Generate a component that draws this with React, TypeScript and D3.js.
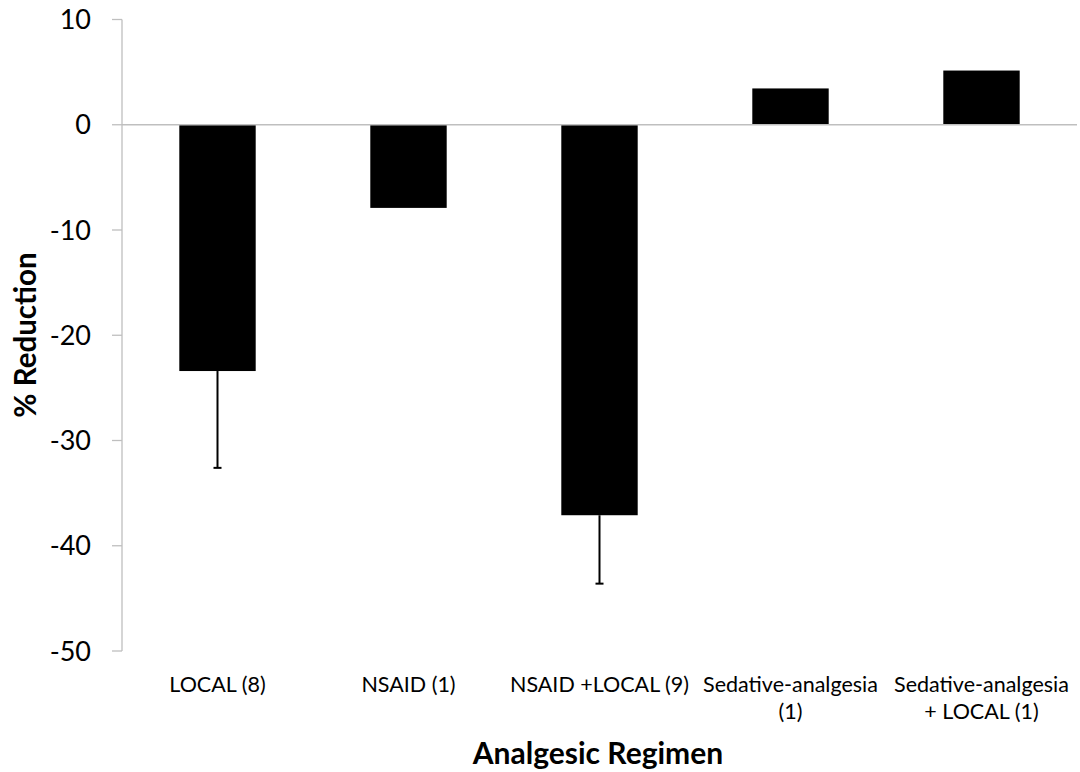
import React from "react";
import * as d3 from "d3";

const categories: string[][] = [
  ["LOCAL (8)"],
  ["NSAID (1)"],
  ["NSAID +LOCAL (9)"],
  ["Sedative-analgesia", "(1)"],
  ["Sedative-analgesia", "+ LOCAL (1)"],
];
const values: number[] = [-23.4, -7.9, -37.1, 3.45, 5.15];
const errors: (number | null)[] = [9.2, null, 6.5, null, null];
const yTicks: number[] = [10, 0, -10, -20, -30, -40, -50];

const W = 1080;
const H = 772;
const FONT = "Lato, 'Open Sans', sans-serif";

export default function App() {
  const x = d3
    .scaleBand<number>()
    .domain(d3.range(categories.length))
    .range([122, 1077])
    .paddingInner(0.6)
    .paddingOuter(0.3);
  const y = d3.scaleLinear().domain([-50, 10]).range([651, 19.5]);
  const band = x.bandwidth();

  return (
    <svg
      width={W}
      height={H}
      style={{ position: "absolute", left: 0, top: 0, background: "#fff" }}
      fontFamily={FONT}
    >
      {/* bars */}
      {values.map((v, i) => (
        <rect
          key={"b" + i}
          x={x(i)!}
          y={y(Math.max(0, v))}
          width={band}
          height={Math.abs(y(v) - y(0))}
          fill="#000"
        />
      ))}
      {/* zero line */}
      <line x1={122} x2={1077} y1={y(0)} y2={y(0)} stroke="#bfbfbf" strokeWidth={1.3} />
      {/* y axis */}
      <line x1={122} x2={122} y1={y(10)} y2={y(-50)} stroke="#bfbfbf" strokeWidth={1.3} />
      {yTicks.map((t) => (
        <g key={"t" + t}>
          <line x1={112} x2={122} y1={y(t)} y2={y(t)} stroke="#bfbfbf" strokeWidth={1.3} />
          <text
            x={91}
            y={y(t)}
            dy="0.36em"
            textAnchor="end"
            fontSize={27}
            fill="#000"
          >
            {t}
          </text>
        </g>
      ))}
      {/* error bars */}
      {values.map((v, i) => {
        const e = errors[i];
        if (e == null) return null;
        const cx = x(i)! + band / 2;
        return (
          <g key={"e" + i}>
            <line x1={cx} x2={cx} y1={y(v)} y2={y(v - e)} stroke="#000" strokeWidth={2} />
            <line x1={cx - 4} x2={cx + 4} y1={y(v - e)} y2={y(v - e)} stroke="#000" strokeWidth={2} />
          </g>
        );
      })}
      {/* category labels */}
      {categories.map((lines, i) => (
        <text
          key={"c" + i}
          x={x(i)! + band / 2}
          y={692}
          textAnchor="middle"
          fontSize={21.5}
          fill="#000"
        >
          {lines.map((l, j) => (
            <tspan key={j} x={x(i)! + band / 2} dy={j === 0 ? 0 : 27}>
              {l}
            </tspan>
          ))}
        </text>
      ))}
      {/* axis titles */}
      <text
        x={598}
        y={764}
        textAnchor="middle"
        fontSize={30}
        fontWeight="bold"
        fill="#000"
      >
        Analgesic Regimen
      </text>
      <text
        transform={`translate(36, 335) rotate(-90)`}
        textAnchor="middle"
        fontSize={29.5}
        fontWeight="bold"
        fill="#000"
      >
        % Reduction
      </text>
    </svg>
  );
}
